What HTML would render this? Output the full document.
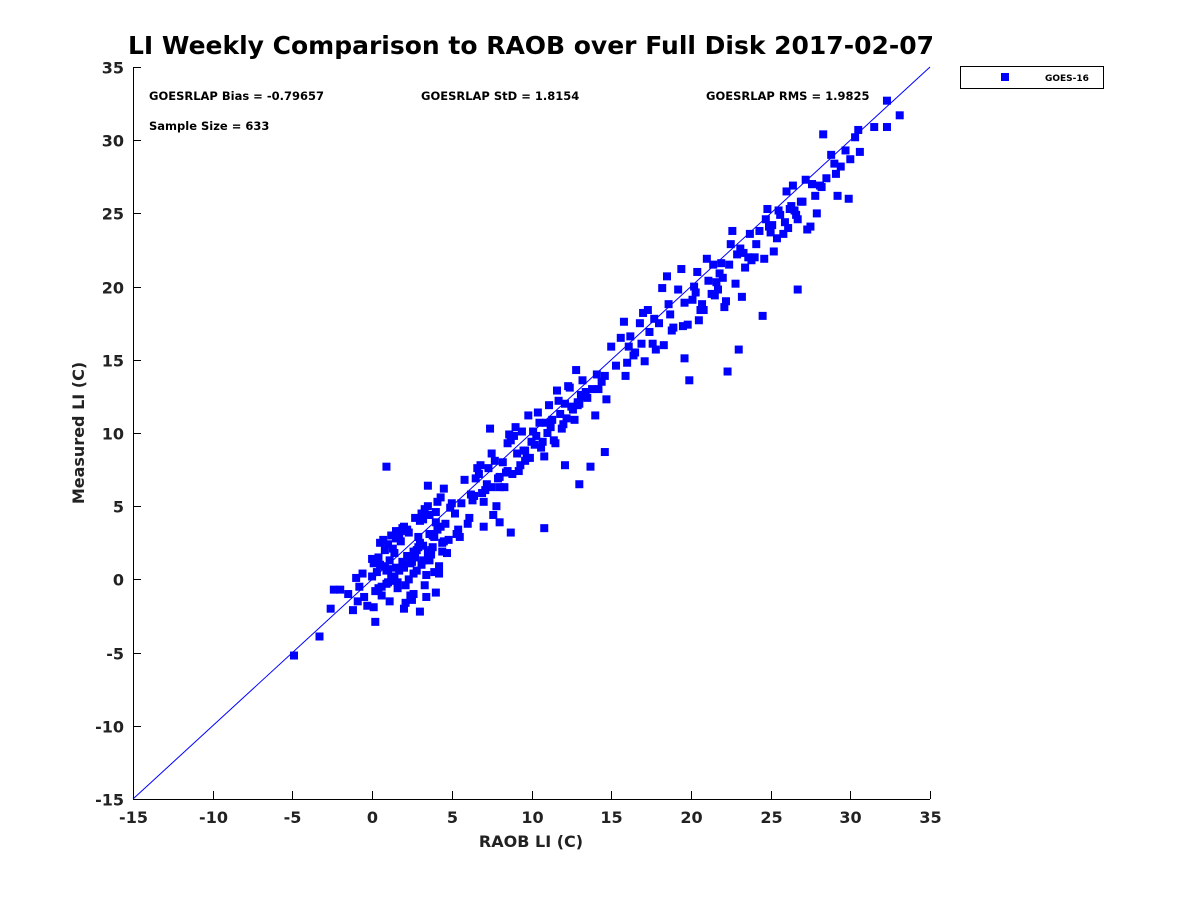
<!DOCTYPE html>
<html><head><meta charset="utf-8"><style>
body{margin:0;background:#fff;}
svg text{font-family:"DejaVu Sans","Liberation Sans",sans-serif;}
</style></head><body>
<svg id="chart" width="1200" height="900" xmlns="http://www.w3.org/2000/svg">
<rect x="0" y="0" width="1200" height="900" fill="#fff"/>
<text x="531" y="54" text-anchor="middle" font-size="24.5" font-weight="bold" fill="#000" textLength="806" lengthAdjust="spacingAndGlyphs">LI Weekly Comparison to RAOB over Full Disk 2017-02-07</text>
<g id="axes"></g>
<g id="marks"></g>
<g font-size="11.5" font-weight="bold">
<text x="149" y="100">GOESRLAP Bias = -0.79657</text>
<text x="421" y="100">GOESRLAP StD = 1.8154</text>
<text x="706" y="100">GOESRLAP RMS = 1.9825</text>
<text x="149" y="130">Sample Size = 633</text>
</g>
<g>
<rect x="960.5" y="66.5" width="143" height="22" fill="#fff" stroke="#000" stroke-width="1"/>
<rect x="1001" y="73" width="8" height="8" fill="#0000ff"/>
<text x="1045" y="81" font-size="9" font-weight="bold">GOES-16</text>
</g>
</svg>
<script>
const xTicks=[-15,-10,-5,0,5,10,15,20,25,30,35];
const yTicks=[-15,-10,-5,0,5,10,15,20,25,30,35];
const raobLI=[-4.9,-3.3,-2.6,-2.4,-2.0,0.9,10.8,8.7,8.0,13.0,14.6,13.7,12.1,19.9,19.6,23.0,22.3,24.5,26.7,22.1,28.3,33.1,32.3,32.3,31.5,30.5,29.9,29.2,
-1.5,-1.2,-0.9,-0.6,-0.3,0.0,0.2,0.4,0.6,0.8,1.0,1.2,1.4,1.6,1.8,2.0,2.2,2.4,2.6,2.8,3.0,3.2,3.4,3.6,3.8,4.0,4.2,4.4,4.6,4.8,5.0,
-1.0,-0.5,0.1,0.5,0.9,1.3,1.7,2.1,2.5,2.9,3.3,3.7,4.1,4.5,4.9,5.3,0.3,0.7,1.1,1.5,1.9,2.3,2.7,3.1,3.5,3.9,4.3,4.7,-0.8,0.2,1.0,2.0,3.0,4.0,
0.0,0.5,1.0,1.5,2.0,2.5,3.0,3.5,4.0,4.5,1.2,2.2,3.2,4.2,0.6,1.6,2.6,3.6,2.4,3.4,
5.2,5.5,5.8,6.1,6.4,6.7,7.0,7.3,7.6,7.9,8.2,8.5,8.8,9.1,9.4,9.7,10.0,5.6,6.0,6.5,7.0,7.5,8.0,8.5,9.0,9.5,6.2,6.8,7.4,8.0,8.6,9.2,9.8,7.1,7.7,8.3,8.9,
10.2,10.5,10.8,11.1,11.4,11.7,12.0,12.3,12.6,12.9,13.2,13.5,13.8,14.1,14.4,14.7,15.0,10.4,11.0,11.6,12.2,12.8,13.4,14.0,14.6,9.6,10.1,10.7,11.3,11.9,12.5,13.1,
15.3,15.6,15.9,16.2,16.5,16.8,17.1,17.4,17.7,18.0,18.3,18.6,18.9,19.2,19.5,15.8,16.4,17.0,17.6,18.2,18.8,19.4,16.1,17.3,18.5,
19.8,20.1,20.4,20.7,21.0,21.3,21.6,21.9,22.2,22.5,22.8,23.1,23.4,23.7,24.0,20.2,20.8,21.4,22.0,22.6,23.2,23.8,20.5,21.7,22.9,
24.3,24.6,24.9,25.2,25.5,25.8,26.1,26.4,26.7,27.0,27.3,27.6,27.9,28.2,28.5,24.8,25.4,26.0,26.6,27.2,27.8,25.1,26.3,27.5,28.8,29.1,29.4,29.7,30.0,30.3,30.6,
0.1,0.4,0.8,1.1,1.4,1.7,2.0,2.3,2.6,2.9,3.2,3.5,3.8,4.1,4.4,1.3,1.9,2.5,3.1,3.7,4.3,0.9,1.5,2.1,2.7,3.3,3.9,2.8,3.6,1.8,
5.4,6.3,6.9,7.2,7.8,8.4,9.3,9.9,6.6,7.5,8.7,9.6,10.3,10.9,11.5,12.1,12.7,13.3,11.2,11.8,12.4,13.0,10.6,12.9,14.2,
16.0,16.9,17.8,18.7,19.6,20.3,21.1,21.8,22.4,23.3,24.1,25.0,25.6,26.2,26.9,27.6,28.1,29.0,23.6,24.7,25.9,26.5,21.5,20.6];
const measuredLI=[-5.2,-3.9,-2.0,-0.7,-0.7,7.7,3.5,3.2,3.9,6.5,8.7,7.7,7.8,13.6,15.1,15.7,14.2,18.0,19.8,18.6,30.4,31.7,30.9,32.7,30.9,30.7,26.0,26.2,
-1.0,-2.1,-1.5,0.4,-1.8,0.2,-0.8,1.5,-0.5,0.9,2.4,0.1,1.8,-0.2,2.6,0.8,3.4,1.1,-1.0,2.0,4.0,1.3,0.3,3.1,2.2,4.6,0.9,1.9,3.8,2.7,5.2,
0.1,-1.2,-1.9,1.0,-0.3,2.1,0.6,-1.6,1.6,2.9,-0.4,1.7,3.4,2.6,4.9,3.1,0.5,2.7,-1.5,3.3,1.2,0.0,4.2,1.0,6.4,0.5,5.6,1.8,-0.5,-2.9,0.7,-2.0,-2.2,-0.9,
1.4,2.5,-0.2,0.8,3.6,-1.4,2.5,5.0,3.9,6.2,3.0,1.6,2.3,0.4,-1.1,-0.6,1.9,4.4,-1.1,-1.2,
4.5,2.9,6.8,4.2,5.7,7.2,5.3,7.6,4.4,6.9,8.0,9.3,7.2,8.6,10.1,8.3,9.4,5.2,3.8,6.9,3.6,8.6,6.3,7.4,10.4,8.8,5.8,7.8,10.3,7.0,9.9,7.4,11.2,6.1,8.1,6.3,9.8,
9.2,10.7,8.4,11.9,9.5,12.2,10.6,13.2,11.6,12.1,13.6,12.4,13.0,14.0,13.5,12.3,15.9,11.4,10.0,12.9,11.0,14.3,12.8,11.2,13.9,8.8,10.1,9.4,10.9,10.3,11.8,12.6,
14.6,16.5,13.9,16.6,15.5,17.5,14.9,16.9,17.8,17.5,16.0,18.8,17.2,19.8,17.3,17.6,15.3,18.2,16.1,19.9,17.0,21.2,15.9,18.4,20.7,
17.4,19.1,21.0,18.8,21.9,19.5,20.3,21.6,19.0,22.9,20.2,22.6,21.3,23.6,22.0,20.0,18.4,21.5,20.6,23.8,19.3,21.8,17.7,19.8,22.2,
23.8,21.9,24.1,22.4,25.2,23.6,24.0,26.9,24.6,25.8,23.9,27.0,25.0,26.8,27.4,25.3,23.3,26.5,24.9,27.3,26.2,24.2,25.5,24.1,29.0,27.7,28.2,29.3,28.7,30.2,29.2,
1.1,-0.6,2.0,1.3,0.2,2.9,1.0,3.2,0.4,2.2,4.1,1.8,3.0,5.3,2.5,-0.1,3.5,1.2,4.5,2.0,3.6,0.6,2.8,-0.4,1.5,4.8,2.9,0.6,1.3,3.3,
3.4,5.4,5.9,6.5,5.0,7.3,7.8,8.3,7.6,6.3,9.5,8.1,9.8,10.7,9.3,12.0,10.9,12.5,10.4,11.3,13.1,12.0,9.0,11.9,13.0,
14.8,16.1,15.7,18.1,18.9,19.6,20.4,20.9,21.5,22.3,22.9,23.7,24.9,25.3,25.8,27.0,26.9,28.4,22.0,24.6,24.4,25.2,19.4,18.4];
const svg=document.getElementById('chart');
const NS='http://www.w3.org/2000/svg';
const X0=133,X1=930,Y0=799,Y1=67;
function sx(v){return X0+(v+15)/50*(X1-X0);}
function sy(v){return Y0-(v+15)/50*(Y0-Y1);}
function mk(tag,attrs,parent){const e=document.createElementNS(NS,tag);for(const k in attrs)e.setAttribute(k,attrs[k]);parent.appendChild(e);return e;}
const axes=document.getElementById('axes');
const marks=document.getElementById('marks');
let l=mk('line',{x1:X0,y1:Y0+0.5,x2:X1,y2:Y0+0.5,stroke:'#000','stroke-width':1},axes);


l=mk('line',{x1:X0+0.5,y1:Y1,x2:X0+0.5,y2:Y0,stroke:'#000','stroke-width':1},axes);


xTicks.forEach(v=>{const x=Math.round(sx(v))+0.5;
 mk('line',{x1:x,y1:Y0,x2:x,y2:Y0-8,stroke:'#000'},axes);
 const t=mk('text',{x:x,y:Y0+24,'text-anchor':'middle','font-size':16,'font-weight':'bold',fill:'#222'},axes);
 t.textContent=v;
 
 
});
yTicks.forEach(v=>{const y=Math.round(sy(v))+0.5;
 mk('line',{x1:X0,y1:y,x2:X0+8,y2:y,stroke:'#000'},axes);
 const t=mk('text',{x:X0-9,y:y+6,'text-anchor':'end','font-size':16,'font-weight':'bold',fill:'#222'},axes);
 t.textContent=v;
 
 
});
let t=mk('text',{x:531,y:847,'text-anchor':'middle','font-size':16,'font-weight':'bold',fill:'#222'},axes);
t.textContent='RAOB LI (C)';


t=mk('text',{x:0,y:0,'text-anchor':'middle','font-size':16,'font-weight':'bold',fill:'#222',transform:'translate(84,433) rotate(-90)'},axes);
t.textContent='Measured LI (C)';


l=mk('line',{x1:sx(-15),y1:sy(-15),x2:sx(35),y2:sy(35),stroke:'#0000ff','stroke-width':1},marks);


const n=Math.min(raobLI.length,measuredLI.length);
for(let i=0;i<n;i++){
 const r=mk('rect',{x:sx(raobLI[i])-4,y:sy(measuredLI[i])-4,width:8,height:8,fill:'#0000ff'},marks);
 
 
}
</script>
</body></html>
